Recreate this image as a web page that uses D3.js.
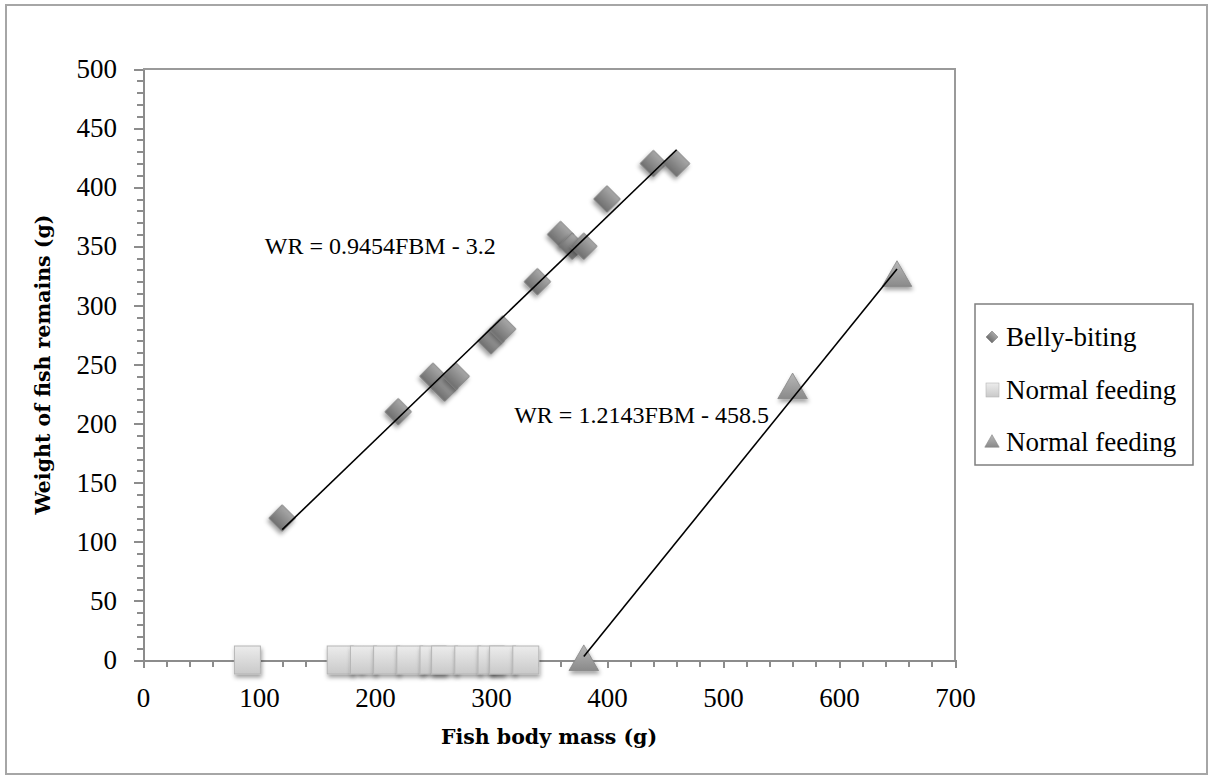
<!DOCTYPE html>
<html lang="en">
<head>
<meta charset="utf-8">
<script src="https://cdn.jsdelivr.net/npm/d3@7"></script>
<style>
    body { margin: 0; background: #fff; }
    text { font-family: 'Liberation Serif', serif; fill: #000; }
    .axis path, .axis line { stroke: #8c8c8c; stroke-width: 2; shape-rendering: crispEdges; }
    .axis text { font-size: 27px; }
    .title { font-family: 'DejaVu Serif', serif; font-size: 20.5px; font-weight: bold; }
    .eq { font-size: 24px; }
    .legend text { font-size: 27px; }
    .trend { fill: none; stroke: #000; stroke-width: 1.6; }
</style>
</head>
<body>
<div id="chart"></div>
<script>
    // belly-biting points
    var bellyMass = [120, 220, 250, 260, 270, 300, 310, 340, 360, 370, 380, 400, 440, 460, 190, 245, 303];
    var bellyRemains = [120, 210, 240, 230, 240, 270, 280, 320, 360, 350, 350, 390, 420, 420, 0, 0, 0];

    // normal feeding (squares), all at zero
    var normalMass = [90, 170, 190, 210, 230, 250, 260, 280, 300, 310, 330];
    var normalRemains = [0, 0, 0, 0, 0, 0, 0, 0, 0, 0, 0];

    // normal feeding (triangles)
    var triMass = [380, 560, 650];
    var triRemains = [0, 230, 325];

    // trendlines: slope, intercept, x range
    var bellyFit = {slope: 0.9454, icept: -3.2, from: 120, to: 460, label: "WR = 0.9454FBM - 3.2"};
    var triFit = {slope: 1.2143, icept: -458.5, from: 380, to: 650, label: "WR = 1.2143FBM - 458.5"};

    var legendNames = ["Belly-biting", "Normal feeding", "Normal feeding"];
    var xTicks = [0, 100, 200, 300, 400, 500, 600, 700];
    var yTicks = [0, 50, 100, 150, 200, 250, 300, 350, 400, 450, 500];

    var W = 1213, H = 780;
    var plotL = 143, plotR = 955, plotT = 69, plotB = 660;

    var svg = d3.select("#chart").append("svg")
        .attr("width", W)
        .attr("height", H);

    var defs = svg.append("defs");
    function grad(id, c1, c2) {
        var g = defs.append("linearGradient").attr("id", id)
            .attr("x1", 0).attr("y1", 0).attr("x2", 0).attr("y2", 1);
        g.append("stop").attr("offset", "0%").attr("stop-color", c1);
        g.append("stop").attr("offset", "100%").attr("stop-color", c2);
    }
    grad("gDia", "#a8a8a8", "#6f6f6f");
    grad("gSq", "#ececec", "#c9c9c9");
    grad("gTri", "#b8b8b8", "#8a8a8a");

    var f = defs.append("filter").attr("id", "shadow")
        .attr("x", "-50%").attr("y", "-50%").attr("width", "200%").attr("height", "200%");
    f.append("feDropShadow").attr("dx", 1).attr("dy", 3).attr("stdDeviation", 2.2)
        .attr("flood-color", "#000").attr("flood-opacity", 0.38);

    // outer frame
    svg.append("rect")
        .attr("x", 6).attr("y", 5)
        .attr("width", W - 12).attr("height", H - 11)
        .attr("fill", "none").attr("stroke", "#a6a6a6").attr("stroke-width", 2);

    var x = d3.scaleLinear().domain([0, 700]).range([plotL, plotR]);
    var y = d3.scaleLinear().domain([0, 500]).range([plotB, plotT]);

    // plot box top and right
    svg.append("path")
        .attr("d", "M" + x(0) + "," + y(500) + "H" + x(700) + "V" + y(0))
        .attr("fill", "none").attr("stroke", "#9a9a9a").attr("stroke-width", 2);

    // minor ticks
    svg.append("g").attr("class", "axis")
        .attr("transform", "translate(" + plotL + ",0)")
        .call(d3.axisLeft(y).tickValues(d3.range(0, 501, 10)).tickSize(6).tickFormat(""))
        .select(".domain").remove();
    svg.append("g").attr("class", "axis")
        .attr("transform", "translate(0," + plotB + ")")
        .call(d3.axisBottom(x).tickValues(d3.range(0, 701, 20)).tickSize(7).tickFormat(""))
        .select(".domain").remove();

    // major axes
    svg.append("g").attr("class", "axis")
        .attr("transform", "translate(" + plotL + ",0)")
        .call(d3.axisLeft(y).tickValues(yTicks).tickSize(9).tickSizeOuter(0).tickPadding(17));
    svg.append("g").attr("class", "axis")
        .attr("transform", "translate(0," + plotB + ")")
        .call(d3.axisBottom(x).tickValues(xTicks).tickSize(8).tickSizeOuter(0).tickPadding(20));

    // axis titles
    svg.append("text").attr("class", "title")
        .attr("x", (plotL + plotR) / 2).attr("y", 744)
        .attr("text-anchor", "middle")
        .text("Fish body mass (g)");
    svg.append("text").attr("class", "title")
        .attr("transform", "translate(50," + (plotT + plotB) / 2 + ") rotate(-90)")
        .attr("text-anchor", "middle")
        .text("Weight of fish remains (g)");

    var diamond = d3.symbol().type(d3.symbolSquare).size(350);

    // diamonds
    svg.append("g").selectAll("path")
        .data(bellyMass)
        .enter().append("path")
        .attr("d", diamond)
        .attr("transform", function (d, i) {
            return "translate(" + x(d) + "," + y(bellyRemains[i]) + ") rotate(45)";
        })
        .attr("fill", "url(#gDia)")
        .attr("stroke", "#7a7a7a").attr("stroke-width", 0.8)
        .attr("filter", "url(#shadow)");

    // squares
    svg.append("g").selectAll("rect")
        .data(normalMass)
        .enter().append("rect")
        .attr("x", function (d) { return x(d) - 13; })
        .attr("y", function (d, i) { return y(normalRemains[i]) - 14; })
        .attr("width", 26).attr("height", 28)
        .attr("fill", "url(#gSq)")
        .attr("stroke", "#b5b5b5").attr("stroke-width", 1)
        .attr("filter", "url(#shadow)");

    // triangles
    var tri = d3.symbol().type(d3.symbolTriangle).size(380);
    svg.append("g").selectAll("path")
        .data(triMass)
        .enter().append("path")
        .attr("d", tri)
        .attr("transform", function (d, i) {
            return "translate(" + x(d) + "," + (y(triRemains[i]) + 2) + ")";
        })
        .attr("fill", "url(#gTri)")
        .attr("stroke", "#858585").attr("stroke-width", 0.8)
        .attr("filter", "url(#shadow)");

    // trendlines
    [bellyFit, triFit].forEach(function (t) {
        svg.append("line").attr("class", "trend")
            .attr("x1", x(t.from)).attr("y1", y(t.slope * t.from + t.icept))
            .attr("x2", x(t.to)).attr("y2", y(t.slope * t.to + t.icept));
    });

    // equations
    svg.append("text").attr("class", "eq")
        .attr("x", x(105)).attr("y", y(350) + 8)
        .text(bellyFit.label);
    svg.append("text").attr("class", "eq")
        .attr("x", x(320)).attr("y", y(207) + 8)
        .text(triFit.label);

    // legend
    var lg = svg.append("g").attr("class", "legend")
        .attr("transform", "translate(975,304)");
    lg.append("rect")
        .attr("width", 218).attr("height", 161)
        .attr("fill", "#fff").attr("stroke", "#7f7f7f").attr("stroke-width", 1.5);
    var rowY = [33, 86, 138];
    lg.append("path")
        .attr("d", d3.symbol().type(d3.symbolSquare).size(70))
        .attr("transform", "translate(17," + rowY[0] + ") rotate(45)")
        .attr("fill", "url(#gDia)").attr("stroke", "#7a7a7a").attr("stroke-width", 0.6);
    lg.append("rect")
        .attr("x", 11).attr("y", rowY[1] - 7).attr("width", 13).attr("height", 14)
        .attr("fill", "url(#gSq)").attr("stroke", "#b5b5b5").attr("stroke-width", 0.6);
    lg.append("path")
        .attr("d", d3.symbol().type(d3.symbolTriangle).size(90))
        .attr("transform", "translate(17," + (rowY[2] + 1) + ")")
        .attr("fill", "url(#gTri)").attr("stroke", "#858585").attr("stroke-width", 0.6);
    lg.selectAll("text.name")
        .data(legendNames)
        .enter().append("text").attr("class", "name")
        .attr("x", 31).attr("y", function (d, i) { return rowY[i] + 9; })
        .text(function (d) { return d; });
</script>
</body>
</html>
